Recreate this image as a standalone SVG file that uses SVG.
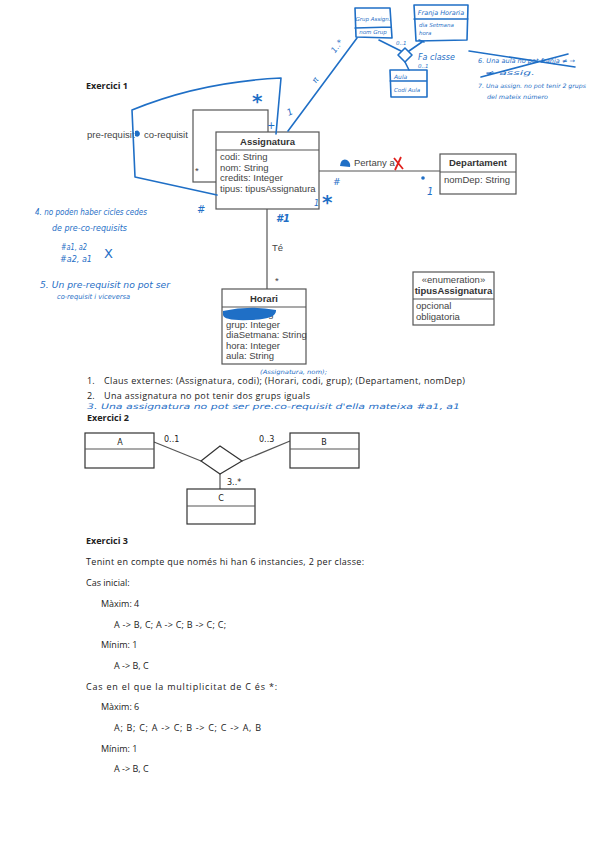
<svg xmlns="http://www.w3.org/2000/svg" width="599" height="848" viewBox="0 0 599 848">
<style>
.uml{fill:#fff;stroke:#555;stroke-width:1.2}
.ln{stroke:#555;stroke-width:1.2;fill:none}
.t{font-family:"Liberation Sans",Arial,sans-serif;font-size:9.5px;fill:#444}
.tb{font-family:"Liberation Sans",Arial,sans-serif;font-size:9.5px;font-weight:bold;fill:#333}
.doc{font-family:"Open Sans","Liberation Sans",sans-serif;font-size:9px;fill:#222}
.docb{font-family:"Open Sans","Liberation Sans",sans-serif;font-size:9px;font-weight:bold;fill:#222}
.hw{stroke:#1f6fc6;stroke-width:1.6;fill:none;stroke-linecap:round;stroke-linejoin:round}
.ht{font-family:"DejaVu Sans",sans-serif;fill:#1f6fc6}
.ex2{fill:#fff;stroke:#333;stroke-width:1.2}
.e2{font-family:"DejaVu Sans",sans-serif;font-size:8px;fill:#222}
</style>
<rect width="599" height="848" fill="#fff"/>

<text class="docb" x="86" y="89">Exercici 1</text>

<g id="connectors">
  <rect class="uml" x="193" y="110" width="75" height="72" fill="none"/>
  <line class="ln" x1="319" y1="171" x2="440" y2="171"/>
  <line class="ln" x1="267" y1="209" x2="267" y2="289"/>
</g>
<text class="t" x="87" y="138">pre-requisit</text>
<text class="t" x="144" y="138">co-requisit</text>
<text class="t" x="195" y="174">*</text>
<text class="t" x="354" y="166">Pertany a</text>
<text class="t" x="272" y="251">Té</text>
<text class="t" x="275" y="284">*</text>

<g id="assignatura">
  <rect class="uml" x="216" y="132" width="103" height="77"/>
  <line class="ln" x1="216" y1="150" x2="319" y2="150"/>
  <text class="tb" x="267.5" y="145" text-anchor="middle">Assignatura</text>
  <text class="t" x="220" y="160">codi: String</text>
  <text class="t" x="220" y="170.5">nom: String</text>
  <text class="t" x="220" y="181">credits: Integer</text>
  <text class="t" x="220" y="191.5">tipus: tipusAssignatura</text>
</g>

<g id="departament">
  <rect class="uml" x="440" y="154" width="76" height="40"/>
  <line class="ln" x1="440" y1="172" x2="516" y2="172"/>
  <text class="tb" x="478" y="166" text-anchor="middle">Departament</text>
  <text class="t" x="444" y="183">nomDep: String</text>
</g>

<g id="horari">
  <rect class="uml" x="222" y="289" width="84" height="75"/>
  <line class="ln" x1="222" y1="307" x2="306" y2="307"/>
  <text class="tb" x="264" y="301.5" text-anchor="middle">Horari</text>
  <text class="t" x="226" y="317">codi: String</text>
  <text class="t" x="226" y="327.5">grup: Integer</text>
  <text class="t" x="226" y="338">diaSetmana: String</text>
  <text class="t" x="226" y="348.5">hora: Integer</text>
  <text class="t" x="226" y="359">aula: String</text>
</g>

<g id="tipusAssignatura">
  <rect class="uml" x="413" y="272" width="81" height="53"/>
  <line class="ln" x1="413" y1="299" x2="494" y2="299"/>
  <text class="t" x="453.5" y="283" text-anchor="middle">«enumeration»</text>
  <text class="tb" x="453.5" y="294" text-anchor="middle">tipusAssignatura</text>
  <text class="t" x="416" y="309">opcional</text>
  <text class="t" x="416" y="320">obligatoria</text>
</g>

<!-- handwritten annotations -->
<g id="annotations">
  <path class="hw" d="M276,134 L281,78 Q200,82 132,110 L135,177 L217,195"/>
  <path class="hw" d="M288,131 L357,38"/>
  <path d="M223,311 Q250,305 276,310 Q277,319 250,320 Q224,321 223,315 Z" fill="#1f6fc6"/>
  <path d="M135,131 q4,-2 5,3 q-1,4 -5,2 z" fill="#1f6fc6"/>
  <path d="M340,166 q1,-8 7,-6 q4,3 3,7 z" fill="#1f6fc6"/>
  <path d="M394,158 L403,169 M401,157 L395,170" stroke="#e0201c" stroke-width="1.8" fill="none"/>
  <circle cx="423" cy="178" r="1.8" fill="#1f6fc6"/>
  <text class="ht" x="427" y="195" style="font-size:10px;font-style:italic">1</text>
  <text class="ht" x="252" y="108" style="font-size:20px;font-weight:bold">*</text>
  <text class="ht" x="267" y="129" style="font-size:10px">+</text>
  <text class="ht" x="287" y="115" style="font-size:9px;font-style:italic" transform="rotate(-25 290 112)">1</text>
  <text class="ht" x="311" y="82" style="font-size:8px;font-style:italic" transform="rotate(-55 315 78)">π</text>
  <text class="ht" x="328" y="50" style="font-size:8px;font-style:italic" transform="rotate(-55 335 45)">1..*</text>
  <text class="ht" x="333" y="185" style="font-size:9px;font-style:italic">#</text>
  <text class="ht" x="322" y="209" style="font-size:20px;font-weight:bold">*</text>
  <text class="ht" x="314" y="206" style="font-size:8px;font-style:italic">1</text>
  <text class="ht" x="276" y="222" style="font-size:10px;font-weight:bold;font-style:italic">#1</text>
  <text class="ht" x="197" y="213" style="font-size:10px;font-style:italic">#</text>

  <!-- top-right small diagram -->
  <g id="grupAssign">
    <path class="hw" d="M355,8 L390,8 L392,38 L356,37 Z M355,28 L391,27"/>
    <text class="ht" x="373" y="21" style="font-size:5.5px;font-style:italic" text-anchor="middle">Grup Assign.</text>
    <text class="ht" x="373" y="34" style="font-size:5.5px;font-style:italic" text-anchor="middle">nom Grup</text>
  </g>
  <g id="franjaHoraria">
    <path class="hw" d="M414,5 L468,5 L467,40 L416,41 Z M414,19 L468,19"/>
    <text class="ht" x="441" y="15" style="font-size:6.5px;font-style:italic" text-anchor="middle">Franja Horaria</text>
    <text class="ht" x="419" y="27" style="font-size:5.5px;font-style:italic">dia Setmana</text>
    <text class="ht" x="419" y="35" style="font-size:5.5px;font-style:italic">hora</text>
  </g>
  <g id="aula">
    <path class="hw" d="M390,70 L427,70 L427,97 L391,97 Z M390,81 L427,81"/>
    <text class="ht" x="394" y="79" style="font-size:6px;font-style:italic">Aula</text>
    <text class="ht" x="394" y="92" style="font-size:5.5px;font-style:italic">Codi Aula</text>
  </g>
  <path class="hw" d="M405,48 L412,55 L405,62 L398,55 Z"/>
  <path class="hw" d="M379,40 L401,51 M422,42 L409,51 M405,62 L409,70 M419,40 L424,42"/>
  <text class="ht" x="396" y="45" style="font-size:5.5px;font-style:italic">0..1</text>
  <text class="ht" x="418" y="68" style="font-size:5.5px;font-style:italic">0..1</text>
  <text class="ht" x="418" y="60" style="font-size:8px;font-style:italic">Fa  classe</text>

  <text class="ht" x="478" y="63" style="font-size:6.5px;font-style:italic" textLength="97" lengthAdjust="spacingAndGlyphs">6. Una aula no pot franja ≠ →</text>
  <text class="ht" x="485" y="75" style="font-size:6.5px;font-style:italic" textLength="50" lengthAdjust="spacingAndGlyphs">≠ assig.</text>
  <path class="hw" d="M469,51 L575,67 M481,77 L568,54" stroke-width="1.2"/>
  <text class="ht" x="478" y="88" style="font-size:6px;font-style:italic" textLength="108" lengthAdjust="spacingAndGlyphs">7. Una assign. no pot tenir 2 grups</text>
  <text class="ht" x="487" y="99" style="font-size:6px;font-style:italic" textLength="61" lengthAdjust="spacingAndGlyphs">del mateix número</text>

  <text class="ht" x="35" y="215" style="font-size:8px;font-style:italic" textLength="112" lengthAdjust="spacingAndGlyphs">4. no poden haber cicles cedes</text>
  <text class="ht" x="52" y="231" style="font-size:8px;font-style:italic" textLength="75" lengthAdjust="spacingAndGlyphs">de pre-co-requisits</text>
  <text class="ht" x="61" y="250" style="font-size:8px;font-style:italic" textLength="26" lengthAdjust="spacingAndGlyphs">#a1, a2</text>
  <text class="ht" x="60" y="262" style="font-size:8px;font-style:italic" textLength="32" lengthAdjust="spacingAndGlyphs">#a2, a1</text>
  <text class="ht" x="104" y="258" style="font-size:13px">X</text>
  <text class="ht" x="40" y="288" style="font-size:8px;font-style:italic" textLength="130" lengthAdjust="spacingAndGlyphs">5. Un pre-requisit no pot ser</text>
  <text class="ht" x="57" y="299" style="font-size:7px;font-style:italic" textLength="73" lengthAdjust="spacingAndGlyphs">co-requisit i viceversa</text>

  <text class="ht" x="260" y="374" style="font-size:6px;font-style:italic" textLength="67" lengthAdjust="spacingAndGlyphs">(Assignatura, nom);</text>
  <text class="ht" x="87" y="408.5" style="font-size:7.5px;font-style:italic" textLength="373" lengthAdjust="spacingAndGlyphs">3.  Una assignatura no pot ser pre.co-requisit d'ella mateixa   #a1, a1</text>
</g>

<text class="doc" x="87" y="384">1.</text>
<text class="doc" x="104" y="384" textLength="361" lengthAdjust="spacing">Claus externes: (Assignatura, codi); (Horari, codi, grup); (Departament, nomDep)</text>
<text class="doc" x="87" y="399">2.</text>
<text class="doc" x="104" y="399" textLength="206" lengthAdjust="spacing">Una assignatura no pot tenir dos grups iguals</text>
<text class="docb" x="87" y="421">Exercici 2</text>

<!-- Exercici 2 diagram -->
<g id="ex2-connectors">
  <line class="ln" stroke="#333" x1="154" y1="442" x2="201" y2="461"/>
  <line class="ln" stroke="#333" x1="290" y1="441" x2="242" y2="461"/>
  <line class="ln" stroke="#333" x1="220" y1="474" x2="220" y2="489"/>
</g>
<g id="diamond">
  <polygon class="ex2" points="220,446 242,461 220,474 201,461"/>
</g>
<g id="A">
  <rect class="ex2" x="85" y="433" width="69" height="35"/>
  <line class="ln" stroke="#333" x1="85" y1="449" x2="154" y2="449"/>
  <text class="e2" x="120" y="445" text-anchor="middle">A</text>
</g>
<g id="B">
  <rect class="ex2" x="290" y="433" width="69" height="35"/>
  <line class="ln" stroke="#333" x1="290" y1="449" x2="359" y2="449"/>
  <text class="e2" x="324" y="445" text-anchor="middle">B</text>
</g>
<g id="C">
  <rect class="ex2" x="187" y="489" width="68" height="35"/>
  <line class="ln" stroke="#333" x1="187" y1="506" x2="255" y2="506"/>
  <text class="e2" x="221" y="501" text-anchor="middle">C</text>
</g>
<text class="e2" x="164" y="442">0..1</text>
<text class="e2" x="259" y="442">0..3</text>
<text class="e2" x="227" y="485">3..*</text>

<!-- Exercici 3 -->
<text class="docb" x="86" y="544">Exercici 3</text>
<text class="doc" x="86" y="565" textLength="278" lengthAdjust="spacing">Tenint en compte que només hi han 6 instancies, 2 per classe:</text>
<text class="doc" x="86" y="586">Cas inicial:</text>
<text class="doc" x="101" y="607">Màxim: 4</text>
<text class="doc" x="114" y="628" textLength="112" lengthAdjust="spacing">A -&gt; B, C;  A -&gt; C;  B -&gt; C;  C;</text>
<text class="doc" x="101" y="648">Mínim: 1</text>
<text class="doc" x="114" y="669">A -&gt; B, C</text>
<text class="doc" x="86" y="690" textLength="191" lengthAdjust="spacing">Cas en el que la multiplicitat de C és *:</text>
<text class="doc" x="101" y="710">Màxim: 6</text>
<text class="doc" x="114" y="731" textLength="147" lengthAdjust="spacing">A;  B;  C;  A -&gt; C;  B -&gt; C;  C -&gt; A, B</text>
<text class="doc" x="101" y="752">Mínim: 1</text>
<text class="doc" x="114" y="772">A -&gt; B, C</text>
</svg>
